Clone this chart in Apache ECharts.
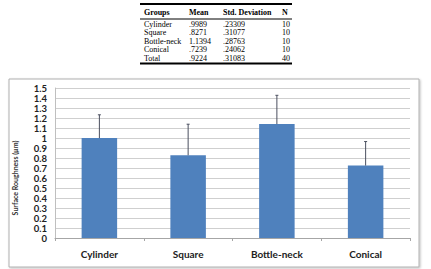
<!DOCTYPE html>
<html><head><meta charset="utf-8">
<script src="https://cdn.jsdelivr.net/npm/echarts@6/dist/echarts.min.js"></script>
<style>html,body{margin:0;padding:0;background:#fff}#c{width:431px;height:269px}</style>
</head><body><div id="c"></div>
<script>
const categories = ['Cylinder', 'Square', 'Bottle-neck', 'Conical'];
const means = [0.9989, 0.8271, 1.1394, 0.7239];
const sds = [0.23309, 0.31077, 0.28763, 0.24062];
const tableHeader = ['Groups', 'Mean', 'Std. Deviation', 'N'];
const tableGroups = ['Cylinder', 'Square', 'Bottle-neck', 'Conical', 'Total'];
const tableMeans = ['.9989', '.8271', '1.1394', '.7239', '.9224'];
const tableSds = ['.23309', '.31077', '.28763', '.24062', '.31083'];
const tableN = ['10', '10', '10', '10', '40'];
const yAxisName = 'Surface Roughness (\u00b5m)';

const chart = echarts.init(document.getElementById('c'), null, {renderer: 'svg'});

const serif = '"Liberation Serif", "Times New Roman", serif';
const colX = [144, 189, 223, 282];
const rowY = [24, 32.5, 41, 49.5, 58];
const g = [];
g.push({type: 'rect', shape: {x: 9, y: 79, width: 410, height: 188}, style: {fill: '#fff', stroke: '#b0b0b0', lineWidth: 1, shadowBlur: 2, shadowColor: 'rgba(0,0,0,0.25)', shadowOffsetX: 1, shadowOffsetY: 1}, z: -10});
g.push({type: 'line', shape: {x1: 140, y1: 4, x2: 292, y2: 4}, style: {stroke: '#000', lineWidth: 2}});
g.push({type: 'line', shape: {x1: 140, y1: 19, x2: 292, y2: 19}, style: {stroke: '#000', lineWidth: 1}});
g.push({type: 'line', shape: {x1: 140, y1: 63.5, x2: 292, y2: 63.5}, style: {stroke: '#000', lineWidth: 2}});
tableHeader.forEach((t, i) => g.push({type: 'text', x: colX[i], y: 12.5, style: {text: t, font: 'bold 8px ' + serif, fill: '#000', verticalAlign: 'middle'}}));
const cols = [tableGroups, tableMeans, tableSds, tableN];
cols.forEach((col, ci) => col.forEach((t, ri) => g.push({type: 'text', x: colX[ci], y: rowY[ri], style: {text: t, font: '8px ' + serif, fill: '#000', verticalAlign: 'middle'}})));
g.push({type: 'text', x: 15, y: 178, rotation: Math.PI / 2, style: {text: yAxisName, font: 'bold 7px Lato, "Liberation Sans", sans-serif', fill: '#333', align: 'center', verticalAlign: 'middle'}});

chart.setOption({
  animation: false,
  grid: {left: 55, right: 21, top: 88, bottom: 31},
  graphic: g,
  xAxis: {
    type: 'category', data: categories,
    axisLine: {lineStyle: {color: '#a6a6a6'}},
    axisTick: {show: true, length: 3, lineStyle: {color: '#a6a6a6'}},
    axisLabel: {margin: 11, fontFamily: 'Lato, "Liberation Sans", sans-serif', fontWeight: 'bold', fontSize: 10, color: '#222'}
  },
  yAxis: {
    type: 'value', min: 0, max: 1.5, interval: 0.1,
    axisLine: {show: true, lineStyle: {color: '#bfbfbf'}},
    axisTick: {show: false},
    splitLine: {lineStyle: {color: '#cfcfcf'}},
    axisLabel: {margin: 8, fontFamily: 'Lato, "Liberation Sans", sans-serif', fontWeight: 'bold', fontSize: 9.5, lineHeight: 9, color: '#222',
      formatter: v => String(+v.toFixed(1))}
  },
  series: [
    {type: 'bar', data: means, barWidth: '40%', itemStyle: {color: '#4f81bd'}},
    {type: 'custom', data: means.map((m, i) => [i, m, m + sds[i]]), z: 5,
      renderItem: (params, api) => {
        const p0 = api.coord([api.value(0), api.value(1)]);
        const p1 = api.coord([api.value(0), api.value(2)]);
        return {type: 'group', children: [
          {type: 'line', shape: {x1: p0[0], y1: p0[1], x2: p1[0], y2: p1[1]}, style: {stroke: '#4a4f5f', lineWidth: 1}},
          {type: 'line', shape: {x1: p1[0] - 1.5, y1: p1[1], x2: p1[0] + 1.5, y2: p1[1]}, style: {stroke: '#4a4f5f', lineWidth: 1}}
        ]};
      }}
  ]
});
</script></body></html>
